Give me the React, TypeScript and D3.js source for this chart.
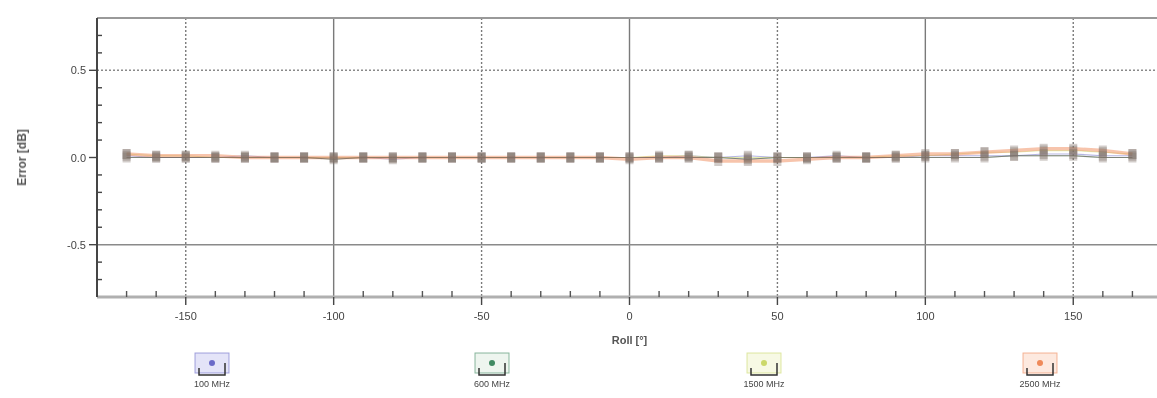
import React, { useEffect, useRef } from 'react';
import * as d3 from 'd3';

// roll angle in degrees
const rolls = [
  -170, -160, -150, -140, -130, -120, -110, -100, -90, -80, -70, -60, -50, -40, -30, -20, -10, 0,
  10, 20, 30, 40, 50, 60, 70, 80, 90, 100, 110, 120, 130, 140, 150, 160, 170,
];

// error [dB] per frequency
const err100 = [
  0.01, 0.0, 0.0, 0.0, 0.01, 0.0, 0.0, 0.0, 0.0, -0.01, 0.0, 0.0, 0.0, 0.0, 0.0, 0.0, 0.0, 0.0,
  0.0, 0.01, 0.0, 0.01, 0.0, 0.0, 0.01, 0.0, 0.0, 0.01, 0.01, 0.01, 0.01, 0.02, 0.02, 0.01, 0.01,
];
const err600 = [
  0.0, 0.0, 0.0, 0.0, 0.0, 0.0, 0.0, -0.01, 0.0, 0.0, 0.0, 0.0, 0.0, 0.0, 0.0, 0.0, 0.0, 0.0,
  0.0, 0.0, 0.0, -0.01, 0.0, 0.0, 0.0, 0.0, 0.0, 0.0, 0.0, 0.0, 0.01, 0.01, 0.01, 0.0, 0.0,
];
const err1500 = [
  0.02, 0.01, 0.01, 0.0, 0.0, 0.0, 0.0, 0.0, 0.0, 0.0, 0.0, 0.0, 0.0, 0.0, 0.0, 0.0, 0.0, 0.0,
  0.01, 0.01, 0.0, 0.0, 0.0, 0.0, 0.0, 0.0, 0.01, 0.01, 0.02, 0.03, 0.03, 0.04, 0.04, 0.03, 0.02,
];
const err2500 = [
  0.02, 0.01, 0.01, 0.01, 0.0, 0.0, 0.0, 0.0, 0.0, 0.0, 0.0, 0.0, 0.0, 0.0, 0.0, 0.0, 0.0, -0.01,
  0.0, 0.0, -0.02, -0.02, -0.02, -0.01, 0.0, 0.0, 0.01, 0.02, 0.02, 0.03, 0.04, 0.05, 0.05, 0.04, 0.02,
];

const seriesNames = ['100 MHz', '600 MHz', '1500 MHz', '2500 MHz'];
const seriesValues = [err100, err600, err1500, err2500];
const seriesColors = ['#6b6bc8', '#3f8a62', '#cbd86a', '#ef8a5a'];
const seriesTints = ['#e4e4f8', '#eef5ef', '#f7f9e4', '#fde9df'];

const xTicks = [-150, -100, -50, 0, 50, 100, 150];
const yTicks = [-0.5, 0.0, 0.5];

const App = () => {
  const ref = useRef<SVGSVGElement | null>(null);

  useEffect(() => {
    const svg = d3.select(ref.current);
    svg.selectAll('*').remove();

    const left = 97;
    const top = 18;
    const bottom = 297;
    const x = d3.scaleLinear().domain([-180, 180]).range([left, 1162]);
    const y = d3.scaleLinear().domain([-0.8, 0.8]).range([bottom, top]);
    const font = 'Liberation Sans, Arial, sans-serif';

    svg.append('rect').attr('width', 1157).attr('height', 398).attr('fill', '#fff');

    // the source is a soft, low resolution screenshot
    svg.append('defs')
      .append('filter')
      .attr('id', 'soft')
      .append('feGaussianBlur')
      .attr('stdDeviation', 0.7);

    const g = svg.append('g').attr('filter', 'url(#soft)');

    // grid
    g.selectAll('.vgrid')
      .data(xTicks)
      .join('line')
      .attr('x1', (d) => x(d))
      .attr('x2', (d) => x(d))
      .attr('y1', top)
      .attr('y2', bottom)
      .attr('stroke', '#7a7a7a')
      .attr('stroke-width', 1.4)
      .attr('stroke-dasharray', (d) => (d % 100 === 0 ? null : '2,2'));

    g.selectAll('.hgrid')
      .data([-0.5, 0.5])
      .join('line')
      .attr('x1', left)
      .attr('x2', 1157)
      .attr('y1', (d) => y(d))
      .attr('y2', (d) => y(d))
      .attr('stroke', '#8a8a8a')
      .attr('stroke-width', 1.4)
      .attr('stroke-dasharray', (d) => (d > 0 ? '2,2' : null));

    // frame
    g.append('line')
      .attr('x1', left).attr('x2', 1157).attr('y1', top).attr('y2', top)
      .attr('stroke', '#999').attr('stroke-width', 2);
    g.append('line')
      .attr('x1', left).attr('x2', 1157).attr('y1', bottom).attr('y2', bottom)
      .attr('stroke', '#b0b0b0').attr('stroke-width', 3);
    g.append('line')
      .attr('x1', left).attr('x2', left).attr('y1', top).attr('y2', bottom)
      .attr('stroke', '#444').attr('stroke-width', 2);

    // minor ticks
    const xMinor = d3.range(-170, 180, 10).filter((d) => d % 50 !== 0);
    g.selectAll('.xminor')
      .data(xMinor)
      .join('line')
      .attr('x1', (d) => x(d)).attr('x2', (d) => x(d))
      .attr('y1', bottom - 6).attr('y2', bottom)
      .attr('stroke', '#555').attr('stroke-width', 1.4);
    g.selectAll('.xmajor')
      .data(xTicks)
      .join('line')
      .attr('x1', (d) => x(d)).attr('x2', (d) => x(d))
      .attr('y1', bottom).attr('y2', bottom + 8)
      .attr('stroke', '#444').attr('stroke-width', 1.4);

    const yMinor = d3.range(-7, 8).map((d) => d / 10).filter((d) => Math.abs(d) !== 0.5 && d !== 0);
    g.selectAll('.yminor')
      .data(yMinor)
      .join('line')
      .attr('x1', left).attr('x2', left + 5)
      .attr('y1', (d) => y(d)).attr('y2', (d) => y(d))
      .attr('stroke', '#444').attr('stroke-width', 1.4);
    g.selectAll('.ymajor')
      .data(yTicks)
      .join('line')
      .attr('x1', left - 8).attr('x2', left)
      .attr('y1', (d) => y(d)).attr('y2', (d) => y(d))
      .attr('stroke', '#444').attr('stroke-width', 1.4);

    // tick labels
    g.selectAll('.xlab')
      .data(xTicks)
      .join('text')
      .attr('x', (d) => x(d))
      .attr('y', bottom + 23)
      .attr('text-anchor', 'middle')
      .attr('font-family', font)
      .attr('font-size', 11)
      .attr('fill', '#444')
      .text((d) => String(d));

    g.selectAll('.ylab')
      .data(yTicks)
      .join('text')
      .attr('x', left - 11)
      .attr('y', (d) => y(d) + 4)
      .attr('text-anchor', 'end')
      .attr('font-family', font)
      .attr('font-size', 11)
      .attr('fill', '#444')
      .text((d) => d.toFixed(1));

    // axis titles
    g.append('text')
      .attr('transform', `translate(26,${y(0)}) rotate(-90)`)
      .attr('text-anchor', 'middle')
      .attr('font-family', font)
      .attr('font-size', 12)
      .attr('font-weight', 'bold')
      .attr('fill', '#555')
      .text('Error [dB]');
    g.append('text')
      .attr('x', x(0))
      .attr('y', 344)
      .attr('text-anchor', 'middle')
      .attr('font-family', font)
      .attr('font-size', 11)
      .attr('font-weight', 'bold')
      .attr('fill', '#555')
      .text('Roll [°]');

    // series lines
    const line = d3
      .line<number>()
      .x((d, i) => x(rolls[i]))
      .y((d) => y(d));

    seriesValues.forEach((vals, s) => {
      g.append('path')
        .datum(vals)
        .attr('fill', 'none')
        .attr('stroke', seriesColors[s])
        .attr('stroke-width', s === 3 ? 3.5 : 1.2)
        .attr('stroke-opacity', s === 3 ? 0.5 : 0.5)
        .attr('d', line);
    });

    // thin dark connector
    g.append('path')
      .datum(err600)
      .attr('fill', 'none')
      .attr('stroke', '#6a5a55')
      .attr('stroke-width', 1)
      .attr('stroke-opacity', 0.6)
      .attr('d', line);

    // markers
    seriesValues.forEach((vals) => {
      g.selectAll(null)
        .data(vals)
        .join('rect')
        .attr('x', (d, i) => x(rolls[i]) - 4)
        .attr('y', (d) => y(d) - 5)
        .attr('width', 8)
        .attr('height', 10)
        .attr('fill', '#7f6f68')
        .attr('fill-opacity', 0.35);
    });

    // legend
    const legendX = [212, 492, 764, 1040];
    seriesNames.forEach((name, s) => {
      const cx = legendX[s];
      const lg = g.append('g').attr('transform', `translate(${cx},0)`);
      lg.append('rect')
        .attr('x', -17).attr('y', 353).attr('width', 34).attr('height', 20)
        .attr('fill', seriesTints[s])
        .attr('stroke', seriesColors[s])
        .attr('stroke-opacity', 0.6);
      lg.append('circle')
        .attr('cx', 0).attr('cy', 363).attr('r', 3)
        .attr('fill', seriesColors[s]);
      lg.append('path')
        .attr('d', 'M-13,368 L-13,375 L13,375 L13,363')
        .attr('fill', 'none')
        .attr('stroke', '#333')
        .attr('stroke-width', 1.5);
      lg.append('text')
        .attr('x', 0).attr('y', 387)
        .attr('text-anchor', 'middle')
        .attr('font-family', font)
        .attr('font-size', 9)
        .attr('fill', '#444')
        .text(name);
    });
  }, []);

  return (
    <svg
      ref={ref}
      width={1157}
      height={398}
      style={{ position: 'absolute', left: 0, top: 0, display: 'block' }}
    />
  );
};

export default App;
